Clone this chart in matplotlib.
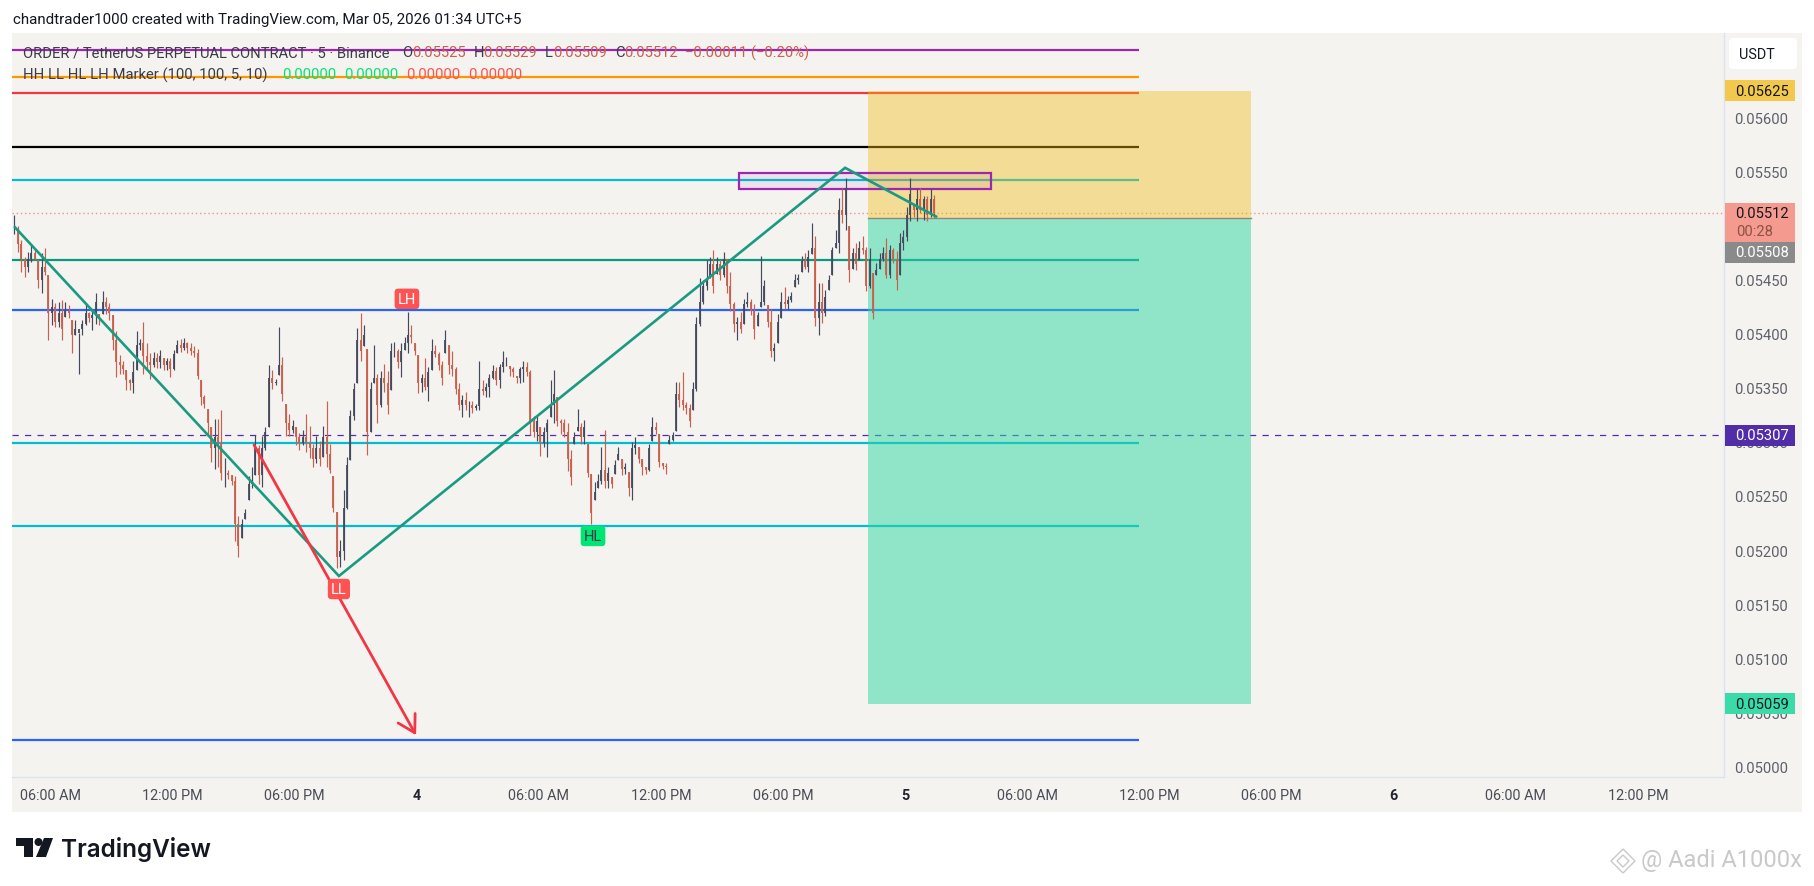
import numpy as np
import matplotlib
matplotlib.use("Agg")
import matplotlib.pyplot as plt
from matplotlib.collections import LineCollection
from matplotlib.patches import Rectangle, Circle, Polygon, FancyBboxPatch
from matplotlib.transforms import ScaledTranslation

# === Values, in 1e-5 USDT ===
highs = [
    5510, 5500, 5487, 5472, 5476, 5483, 5478, 5469, 5475, 5480, 5455, 5433, 5429, 5430, 5432, 5430, 5427, 5413,
    5413, 5401, 5413, 5429, 5421, 5423, 5438, 5419, 5440, 5435, 5429, 5418, 5403, 5381, 5376, 5367, 5359, 5376,
    5403, 5396, 5412, 5392, 5383, 5384, 5383, 5386, 5378, 5378, 5378, 5386, 5395, 5396, 5397, 5393, 5392, 5389,
    5387, 5358, 5344, 5331, 5315, 5322, 5322, 5330, 5286, 5275, 5270, 5269, 5232, 5230, 5239, 5269, 5278, 5307,
    5298, 5306, 5315, 5372, 5367, 5359, 5407, 5379, 5336, 5327, 5321, 5315, 5309, 5312, 5327, 5316, 5299, 5306,
    5302, 5316, 5339, 5299, 5269, 5236, 5210, 5256, 5287, 5330, 5355, 5406, 5420, 5409, 5387, 5356, 5390, 5364,
    5366, 5373, 5366, 5392, 5393, 5387, 5392, 5398, 5421, 5409, 5392, 5381, 5364, 5378, 5370, 5396, 5390, 5384,
    5376, 5404, 5390, 5385, 5370, 5355, 5344, 5347, 5339, 5339, 5336, 5376, 5358, 5355, 5364, 5372, 5370, 5373,
    5385, 5379, 5371, 5370, 5362, 5370, 5376, 5375, 5367, 5325, 5325, 5315, 5315, 5322, 5358, 5367, 5342, 5322,
    5322, 5318, 5293, 5310, 5331, 5318, 5321, 5299, 5271, 5264, 5271, 5296, 5312, 5278, 5268, 5284, 5296, 5285,
    5281, 5273, 5301, 5305, 5296, 5285, 5278, 5299, 5324, 5319, 5308, 5281, 5281, 5307, 5310, 5356, 5356, 5365,
    5338, 5336, 5356, 5416, 5452, 5450, 5469, 5472, 5478, 5472, 5469, 5476, 5470, 5458, 5430, 5416, 5421, 5433,
    5439, 5433, 5428, 5421, 5473, 5450, 5427, 5424, 5392, 5419, 5439, 5444, 5436, 5439, 5456, 5456, 5473, 5475,
    5478, 5503, 5491, 5448, 5448, 5441, 5455, 5481, 5497, 5526, 5535, 5545, 5500, 5480, 5485, 5486, 5491, 5481,
    5480, 5457, 5466, 5475, 5481, 5489, 5483, 5480, 5477, 5494, 5497, 5518, 5545, 5521, 5534, 5535, 5528, 5528,
    5534, 5529,
]
lows = [
    5493, 5476, 5458, 5453, 5458, 5467, 5469, 5443, 5438, 5455, 5395, 5409, 5407, 5407, 5395, 5416, 5415, 5383,
    5400, 5364, 5400, 5409, 5412, 5404, 5410, 5409, 5419, 5419, 5413, 5386, 5361, 5364, 5364, 5349, 5349, 5346,
    5367, 5386, 5364, 5367, 5359, 5370, 5369, 5369, 5367, 5367, 5361, 5367, 5383, 5384, 5386, 5383, 5381, 5379,
    5359, 5335, 5332, 5306, 5282, 5276, 5278, 5266, 5259, 5267, 5261, 5209, 5195, 5212, 5230, 5247, 5258, 5270,
    5262, 5259, 5293, 5315, 5350, 5353, 5363, 5339, 5306, 5306, 5309, 5298, 5293, 5298, 5292, 5286, 5278, 5281,
    5279, 5287, 5278, 5272, 5236, 5184, 5185, 5192, 5239, 5284, 5321, 5355, 5376, 5389, 5289, 5310, 5355, 5318,
    5333, 5347, 5327, 5349, 5379, 5369, 5361, 5386, 5383, 5392, 5381, 5346, 5347, 5349, 5339, 5367, 5379, 5367,
    5353, 5383, 5364, 5362, 5345, 5330, 5324, 5330, 5324, 5328, 5330, 5330, 5344, 5342, 5342, 5359, 5353, 5351,
    5365, 5371, 5362, 5361, 5355, 5355, 5356, 5362, 5307, 5305, 5302, 5288, 5296, 5287, 5324, 5318, 5316, 5308,
    5305, 5274, 5261, 5299, 5311, 5299, 5299, 5268, 5225, 5247, 5258, 5262, 5258, 5258, 5258, 5271, 5284, 5270,
    5271, 5251, 5247, 5290, 5281, 5270, 5271, 5274, 5302, 5308, 5278, 5276, 5271, 5299, 5302, 5311, 5333, 5330,
    5327, 5315, 5330, 5348, 5408, 5428, 5441, 5452, 5438, 5456, 5450, 5453, 5438, 5422, 5402, 5395, 5401, 5410,
    5425, 5418, 5396, 5408, 5425, 5427, 5407, 5379, 5376, 5392, 5415, 5424, 5424, 5430, 5444, 5447, 5458, 5461,
    5458, 5474, 5408, 5400, 5411, 5417, 5441, 5455, 5480, 5475, 5503, 5497, 5449, 5461, 5460, 5469, 5474, 5440,
    5443, 5414, 5455, 5461, 5468, 5452, 5452, 5466, 5441, 5455, 5478, 5486, 5505, 5509, 5505, 5512, 5506, 5505,
    5509, 5508,
]
closes = [
    5496, 5484, 5470, 5462, 5470, 5475, 5470, 5450, 5462, 5458, 5420, 5425, 5412, 5420, 5405, 5422, 5420, 5400,
    5405, 5405, 5410, 5420, 5415, 5418, 5430, 5415, 5430, 5425, 5420, 5395, 5375, 5372, 5368, 5358, 5355, 5365,
    5390, 5392, 5380, 5375, 5372, 5378, 5375, 5380, 5372, 5376, 5368, 5382, 5390, 5388, 5392, 5388, 5385, 5383,
    5362, 5342, 5336, 5318, 5295, 5305, 5300, 5272, 5272, 5270, 5265, 5225, 5205, 5225, 5235, 5262, 5265, 5295,
    5270, 5295, 5310, 5360, 5355, 5356, 5372, 5345, 5318, 5312, 5316, 5305, 5300, 5305, 5300, 5295, 5285, 5295,
    5285, 5305, 5290, 5275, 5240, 5195, 5200, 5240, 5280, 5325, 5350, 5395, 5385, 5400, 5310, 5350, 5360, 5335,
    5360, 5355, 5335, 5385, 5385, 5375, 5385, 5392, 5400, 5398, 5385, 5355, 5360, 5352, 5365, 5385, 5382, 5372,
    5360, 5395, 5372, 5368, 5350, 5335, 5340, 5335, 5335, 5332, 5334, 5350, 5348, 5352, 5360, 5366, 5358, 5370,
    5375, 5375, 5368, 5365, 5360, 5368, 5370, 5365, 5320, 5310, 5320, 5300, 5310, 5318, 5335, 5345, 5320, 5318,
    5310, 5285, 5268, 5305, 5315, 5305, 5315, 5272, 5235, 5255, 5265, 5275, 5265, 5272, 5262, 5280, 5290, 5276,
    5278, 5258, 5295, 5298, 5285, 5278, 5275, 5295, 5315, 5312, 5282, 5279, 5278, 5303, 5307, 5345, 5340, 5335,
    5332, 5320, 5350, 5410, 5430, 5445, 5450, 5465, 5445, 5465, 5455, 5470, 5445, 5428, 5410, 5412, 5405, 5428,
    5430, 5422, 5405, 5418, 5430, 5445, 5412, 5385, 5388, 5412, 5430, 5428, 5432, 5436, 5450, 5452, 5468, 5462,
    5472, 5480, 5415, 5430, 5420, 5435, 5450, 5478, 5485, 5515, 5510, 5535, 5460, 5475, 5465, 5480, 5478, 5445,
    5470, 5420, 5460, 5470, 5475, 5455, 5478, 5470, 5450, 5485, 5490, 5510, 5530, 5515, 5525, 5515, 5525, 5510,
    5525, 5512,
]
first_bar_hour = -19.75   # hours from Mar 4 00:00
bar_step_hours = 1 / 6    # every second 5 minute bar

level_prices = [5663, 5638, 5623, 5573, 5543, 5469, 5423, 5300, 5223, 5026]
level_colors = ['#9c27b0', '#ff9800', '#f23645', '#000000', '#00bcd4', '#089981', '#2962ff', '#00bcd4', '#00bcd4', '#2962ff']
level_end_hour = 35.5

zigzag_hours = [-19.72, -3.81, 21.05, 25.52]
zigzag_prices = [5499, 5177, 5554, 5509]

arrow_hours = [-7.98, -0.02]
arrow_prices = [5298, 5030]

entry_price = 5508
target_price = 5059
stop_price = 5625
position_hours = [22.18, 40.99]
box_hours = [15.84, 28.22]
box_prices = [5534, 5549.5]
last_price = 5512
marker_price = 5307

price_ticks = [5000, 5050, 5100, 5150, 5200, 5250, 5300, 5350, 5400, 5450, 5500, 5550, 5600]
time_ticks = [-18, -12, -6, 0, 6, 12, 18, 24, 30, 36, 42, 48, 54, 60]
time_labels = ['06:00 AM', '12:00 PM', '06:00 PM', '4', '06:00 AM', '12:00 PM', '06:00 PM', '5',
               '06:00 AM', '12:00 PM', '06:00 PM', '6', '06:00 AM', '12:00 PM']

swing_labels = ['LH', 'LL', 'HL']
swing_hours = [-0.47, -3.81, 8.67]
swing_prices = [5433, 5165, 5214]

# === Setup ===
plt.rcParams['font.family'] = ['Roboto', 'DejaVu Sans']
W, H = 1814, 887
PANEL = '#f5f3ef'
AX_LINE = '#dbe3f3'
TEXT = '#3a3d47'
UP = '#434a5e'
DOWN = '#c8604c'

fig = plt.figure(figsize=(W / 100, H / 100), dpi=100, facecolor='white')
L, R, T, B = 12, 1724, 34, 778
ax = fig.add_axes([L / W, 1 - B / H, (R - L) / W, (B - T) / H], facecolor=PANEL, zorder=2)
fig.add_artist(Rectangle((12 / W, 1 - 813 / H), (1802 - 12) / W, (813 - 34) / H, transform=fig.transFigure,
                         facecolor=PANEL, edgecolor='none', zorder=-1))
ax.set_xlim((L - 416.5) / 20.36, (R - 416.5) / 20.36)
ymin, ymax = 4991.4, 5678.5
ax.set_ylim(ymin, ymax)


def price_y(p):
    return B - (p - ymin) / (ymax - ymin) * (B - T)


for s in ['top', 'left']:
    ax.spines[s].set_visible(False)
for s in ['right', 'bottom']:
    ax.spines[s].set_color(AX_LINE)
    ax.spines[s].set_linewidth(1)

# === Levels, position zones, box ===
ax.hlines(level_prices, ax.get_xlim()[0], level_end_hour, colors=level_colors, linewidth=1.6, zorder=2)
ax.axhline(last_price, color='#ef9488', linestyle=(0, (1, 2)), linewidth=1, zorder=2)
ax.axhline(marker_price, color='#512da8', linestyle=(0, (5, 5)), linewidth=0.9, zorder=2)

ax.fill_between(position_hours, entry_price, stop_price, color='#f2bb10', alpha=0.4, linewidth=0, zorder=3)
ax.fill_between(position_hours, target_price, entry_price, color='#2cd8a4', alpha=0.5, linewidth=0, zorder=3)
ax.plot(position_hours, [entry_price, entry_price], color='#8a8a80', linewidth=1, zorder=3)

ax.add_patch(Rectangle((box_hours[0], box_prices[0]), box_hours[1] - box_hours[0], box_prices[1] - box_prices[0],
                       facecolor=(0.61, 0.15, 0.69, 0.08), edgecolor='#9c27b0', linewidth=1.6, zorder=4))

# === Bars ===
hi = np.array(highs, dtype=float)
lo = np.array(lows, dtype=float)
cl = np.array(closes, dtype=float)
op = np.r_[cl[0], cl[:-1]]
bar_x = first_bar_hour + np.arange(len(hi)) * bar_step_hours
bar_colors = [UP if c >= o else DOWN for o, c in zip(op, cl)]
wicks = [[(x, l), (x, h)] for x, l, h in zip(bar_x, lo, hi)]
bodies = [[(x, o), (x, c)] for x, o, c in zip(bar_x, np.clip(op, lo, hi), cl)]
ax.add_collection(LineCollection(wicks, colors=bar_colors, linewidths=0.85, zorder=5))
ax.add_collection(LineCollection(bodies, colors=bar_colors, linewidths=1.3, zorder=5))

# === Drawings ===
ax.plot(zigzag_hours, zigzag_prices, color='#1a9a80', linewidth=1.9, zorder=6, solid_joinstyle='miter')
ax.annotate('', xy=(arrow_hours[1], arrow_prices[1]), xytext=(arrow_hours[0], arrow_prices[0]),
            arrowprops=dict(arrowstyle='->,head_length=12,head_width=7', mutation_scale=1, color='#f23645',
                            linewidth=2, shrinkA=0, shrinkB=0), zorder=6)

for lab, h, p in zip(swing_labels, swing_hours, swing_prices):
    is_high = lab == 'HL'
    ax.text(h, p, lab, ha='center', va='center', fontsize=10.5, zorder=7,
            color='#2a3a40' if is_high else 'white',
            bbox=dict(boxstyle='round,pad=0.22,rounding_size=0.25', facecolor='#00e676' if is_high else '#ff5252',
                      edgecolor='none'))

# === Axis labels ===
ax.yaxis.tick_right()
ax.set_yticks(price_ticks)
ax.set_yticklabels([f"{p / 1e5:.5f}" for p in price_ticks], ha='right', color='#5d606b', fontsize=10.6)
ax.tick_params(axis='y', length=0, pad=46)
up_one = ScaledTranslation(0, 1 / 100, fig.dpi_scale_trans)
for tick in ax.get_yticklabels():
    tick.set_transform(tick.get_transform() + up_one)
ax.set_xticks(time_ticks)
ax.set_xticklabels(time_labels, color='#4a4d57', fontsize=10.4)
ax.tick_params(axis='x', length=0, pad=8)
for tick, lab in zip(ax.get_xticklabels(), time_labels):
    if len(lab) == 1:
        tick.set_fontweight('bold')
        tick.set_color('#22252e')

# === Page overlay in pixels: header, legend, price tags, logo ===
page = fig.add_axes([0, 0, 1, 1], facecolor='none', zorder=10)
page.set_xlim(0, W)
page.set_ylim(H, 0)
page.axis('off')

page.text(13, 20, "chandtrader1000 created with TradingView.com, Mar 05, 2026 01:34 UTC+5",
          fontsize=10.9, color='#131722', va='center')

legend_red = '#c8604f'
row1 = [(23, "ORDER / TetherUS PERPETUAL CONTRACT · 5 · Binance", TEXT), (402, "O", TEXT), (412, "0.05525", legend_red),
        (474, "H", TEXT), (483, "0.05529", legend_red), (545, "L", TEXT), (553, "0.05509", legend_red),
        (615, "C", TEXT), (624, "0.05512", legend_red), (685, "−0.00011 (−0.20%)", legend_red)]
for x, s, c in row1:
    page.text(x, 53, s, fontsize=10.6, color=c, va='center')
row2 = [(23, "HH LL HL LH Marker (100, 100, 5, 10)", TEXT), (282, "0.00000", '#00e676'), (344, "0.00000", '#00e676'),
        (406, "0.00000", '#ff5252'), (468, "0.00000", '#ff5252')]
for x, s, c in row2:
    page.text(x, 75, s, fontsize=10.7, color=c, va='center')

page.add_patch(FancyBboxPatch((1731, 41), 64, 27, boxstyle='round,pad=2,rounding_size=4',
                              facecolor='white', edgecolor='none'))
page.text(1757, 55, "USDT", fontsize=10.4, color='#131722', ha='center', va='center')


def tag(py0, py1, color, text, tcolor, tpy=None):
    page.add_patch(Rectangle((1725, py0), 70, py1 - py0, facecolor=color, edgecolor='none'))
    page.text(1789, (py0 + py1) / 2 if tpy is None else tpy, text, color=tcolor, fontsize=10.6,
              ha='right', va='center')


sy = price_y(stop_price)
tag(sy - 10.5, sy + 10.5, '#f2c94c', "0.05625", '#131722')
ly = price_y(last_price)
tag(ly - 10.5, ly + 28.5, '#f59a8e', "0.05512", '#131722', ly)
page.text(1736, ly + 18, "00:28", color='#8a5345', fontsize=10.6, ha='left', va='center')
tag(ly + 28.5, ly + 49.5, '#8a8a8a', "0.05508", 'white')
my = price_y(marker_price)
tag(my - 10.5, my + 10.5, '#512da8', "0.05307", 'white')
ty = price_y(target_price)
tag(ty - 10.5, ty + 10.5, '#3adba8', "0.05059", '#131722')

# logo
page.add_patch(Polygon([(16, 839), (33, 839), (33, 858), (24, 858), (24, 847), (16, 847)], facecolor='#131722', edgecolor='none'))
page.add_patch(Circle((38.5, 843), 4, facecolor='#131722', edgecolor='none'))
page.add_patch(Polygon([(44, 839), (53, 839), (46, 858), (36, 858)], facecolor='#131722', edgecolor='none'))
page.text(61, 850, "TradingView", family='Inter', fontsize=17.5, fontweight='semibold', color='#131722', va='center')

# watermark
wm = '#c9c9c9'
for cx, cy, r in [(1623, 862, 12), (1623, 862, 6)]:
    page.add_patch(Polygon([(cx, cy - r), (cx + r, cy), (cx, cy + r), (cx - r, cy)], facecolor='none', edgecolor=wm, linewidth=1))
page.text(1641, 861, "@ Aadi A1000x", fontsize=17, color=wm, va='center')

# === Save ===
fig.savefig('out.png', dpi=100)
plt.close(fig)
